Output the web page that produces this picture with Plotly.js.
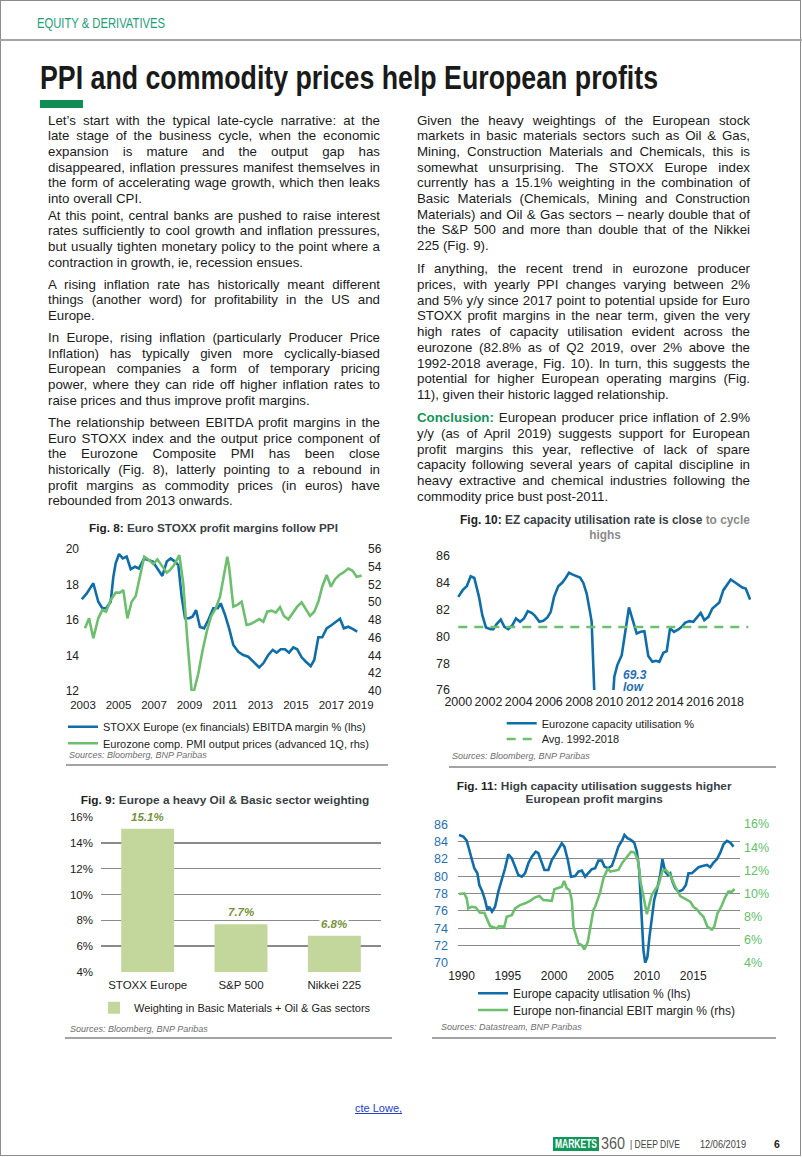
<!DOCTYPE html>
<html>
<head>
<meta charset="utf-8">
<script src="https://cdn.plot.ly/plotly-3.0.1.min.js"></script>
<style>
  html, body { margin:0; padding:0; background:#fff; }
  #page { position:relative; width:802px; height:1157px; overflow:hidden; background:#fff;
          font-family:"Liberation Sans", Arial, sans-serif; color:#1b1b1b; }
  .abs { position:absolute; }
  .narrow { font-family:"Liberation Sans Narrow","Arial Narrow","Liberation Sans",Arial,sans-serif;
            white-space:nowrap; transform-origin:0 50%; display:inline-block; }
  .line { position:absolute; white-space:nowrap; font-size:13.3px; line-height:16px; color:#1b1b1b; }
  .src { position:absolute; font-size:9px; line-height:12px; font-style:italic; color:#6d6d6d; white-space:nowrap; }
  .sep { position:absolute; height:1.5px; background:#a3a3a3; }
  .chart { position:absolute; width:380px; height:260px; }
  .concl { color:#13935a; font-weight:bold; }
  .ctitle { position:absolute; white-space:nowrap; font-weight:bold; color:#222; font-size:11.8px; line-height:14px; }
  .ctitle .g { color:#3a3f47; }
  .ctitle .l { color:#8a8a8a; }
</style>
</head>
<body>
<div id="page">
  <div class="abs" style="left:0;top:0;width:799px;height:1154px;border:1.5px solid #8c8c8c;"></div>
  <div class="abs" style="left:0;top:39px;width:802px;height:2px;background:#a5a5a5;"></div>
  <div id="hdr" class="abs narrow" style="left:37px;top:14px;font-size:14.5px;line-height:18px;color:#23a07b;">EQUITY &amp; DERIVATIVES</div>
  <div id="ttl" class="abs narrow" style="left:40px;top:57px;font-size:34px;line-height:40px;font-weight:bold;color:#1a1a1a;">PPI and commodity prices help European profits</div>
  <div class="abs" style="left:40px;top:100px;width:43px;height:8px;background:#0f8d55;"></div>
  <div id="textLayer"></div>

  <div id="fig8" class="chart" style="left:30px;top:515px;"></div>
  <div id="fig10" class="chart" style="left:415px;top:510px;"></div>
  <div id="fig9" class="chart" style="left:30px;top:780px;"></div>
  <div id="fig11" class="chart" style="left:415px;top:780px;"></div>

  <div id="t8" class="ctitle">Fig. 8: <span class="g">Euro STOXX profit margins follow PPI</span></div>
  <div id="t9" class="ctitle">Fig. 9: <span class="g">Europe a heavy Oil &amp; Basic sector weighting</span></div>
  <div id="t10a" class="ctitle">Fig. 10: <span class="g">EZ capacity utilisation rate is close</span> <span class="l">to cycle</span></div>
  <div id="t10b" class="ctitle"><span class="l">highs</span></div>
  <div id="t11a" class="ctitle">Fig. 11: <span class="g">High capacity utilisation suggests higher</span></div>
  <div id="t11b" class="ctitle"><span class="g">European profit margins</span></div>

  <div class="src" style="left:69px;top:749px;">Sources: Bloomberg, BNP Paribas</div>
  <div class="sep" style="left:66px;top:764px;width:322px;"></div>
  <div class="src" style="left:452px;top:750px;">Sources: Bloomberg, BNP Paribas</div>
  <div class="sep" style="left:449px;top:766px;width:327px;"></div>
  <div class="src" style="left:70px;top:1023px;">Sources: Bloomberg, BNP Paribas</div>
  <div class="sep" style="left:65px;top:1037px;width:327px;"></div>
  <div class="src" style="left:441px;top:1021px;">Sources: Datastream, BNP Paribas</div>
  <div class="sep" style="left:432px;top:1037px;width:344px;"></div>

  <div class="abs" style="left:355px;top:1101px;font-size:11px;line-height:14px;color:#2340d0;text-decoration:underline;white-space:nowrap;">cte Lowe,</div>
  <div class="abs" style="left:553px;top:1137px;width:46px;height:14px;background:#11975a;"></div>
  <div id="mk" class="abs narrow" style="left:555px;top:1137px;font-size:12px;line-height:14px;font-weight:bold;color:#fff;">MARKETS</div>
  <div id="m360" class="abs narrow" style="left:601px;top:1135px;font-size:16px;line-height:18px;color:#5a5a5a;">360</div>
  <div id="dd" class="abs narrow" style="left:630px;top:1138px;font-size:10.5px;line-height:13px;color:#444;">| DEEP DIVE</div>
  <div id="dt" class="abs narrow" style="left:700px;top:1138px;font-size:10.5px;line-height:13px;color:#444;">12/06/2019</div>
  <div class="abs" style="left:774px;top:1138px;font-size:10.5px;line-height:13px;font-weight:bold;color:#222;">6</div>
</div>

<script>
// ---------------- Body text ----------------
const leftParagraphs = [
  ["Let\u2019s start with the typical late-cycle narrative: at the",
   "late stage of the business cycle, when the economic",
   "expansion is mature and the output gap has",
   "disappeared, inflation pressures manifest themselves in",
   "the form of accelerating wage growth, which then leaks",
   "into overall CPI."],
  ["At this point, central banks are pushed to raise interest",
   "rates sufficiently to cool growth and inflation pressures,",
   "but usually tighten monetary policy to the point where a",
   "contraction in growth, ie, recession ensues."],
  ["A rising inflation rate has historically meant different",
   "things (another word) for profitability in the US and",
   "Europe."],
  ["In Europe, rising inflation (particularly Producer Price",
   "Inflation) has typically given more cyclically-biased",
   "European companies a form of temporary pricing",
   "power, where they can ride off higher inflation rates to",
   "raise prices and thus improve profit margins."],
  ["The relationship between EBITDA profit margins in the",
   "Euro STOXX index and the output price component of",
   "the Eurozone Composite PMI has been close",
   "historically (Fig. 8), latterly pointing to a rebound in",
   "profit margins as commodity prices (in euros) have",
   "rebounded from 2013 onwards."]
];
const rightParagraphs = [
  ["Given the heavy weightings of the European stock",
   "markets in basic materials sectors such as Oil & Gas,",
   "Mining, Construction Materials and Chemicals, this is",
   "somewhat unsurprising. The STOXX Europe index",
   "currently has a 15.1% weighting in the combination of",
   "Basic Materials (Chemicals, Mining and Construction",
   "Materials) and Oil & Gas sectors \u2013 nearly double that of",
   "the S&P 500 and more than double that of the Nikkei",
   "225 (Fig. 9)."],
  ["If anything, the recent trend in eurozone producer",
   "prices, with yearly PPI changes varying between 2%",
   "and 5% y/y since 2017 point to potential upside for Euro",
   "STOXX profit margins in the near term, given the very",
   "high rates of capacity utilisation evident across the",
   "eurozone (82.8% as of Q2 2019, over 2% above the",
   "1992-2018 average, Fig. 10). In turn, this suggests the",
   "potential for higher European operating margins (Fig.",
   "11), given their historic lagged relationship."],
  ["Conclusion: European producer price inflation of 2.9%",
   "y/y (as of April 2019) suggests support for European",
   "profit margins this year, reflective of lack of spare",
   "capacity following several years of capital discipline in",
   "heavy extractive and chemical industries following the",
   "commodity price bust post-2011."]
];

// ---------------- Fig. 8 data ----------------
const f8MarginYears = [2002.93,2003.21,2003.58,2003.86,2004.09,2004.30,2004.56,2004.71,2004.84,2005.03,
  2005.24,2005.46,2005.69,2005.93,2006.15,2006.44,2006.68,2006.93,2007.19,2007.47,
  2007.72,2007.94,2008.18,2008.37,2008.56,2008.75,2008.99,2009.18,2009.37,2009.59,
  2009.82,2010.06,2010.34,2010.59,2010.76,2011.00,2011.24,2011.47,2011.75,2012.03,
  2012.31,2012.59,2012.93,2013.16,2013.44,2013.69,2013.91,2014.14,2014.38,2014.61,
  2014.85,2015.07,2015.32,2015.56,2015.83,2016.03,2016.26,2016.48,2016.73,2017.01,
  2017.25,2017.48,2017.70,2017.95,2018.19,2018.45];
const f8Margin = [17.17,17.5,18.07,17.03,16.66,16.66,17.03,18.44,19.19,19.72,
  19.47,19.57,18.86,19.0,18.9,19.47,19.38,19.29,18.9,18.48,
  19.29,19.47,19.29,19.1,17.3,16.1,16.1,16.2,16.56,15.6,
  15.53,16.0,16.66,16.66,16.94,16.3,15.5,14.59,14.21,14.03,
  13.93,13.65,13.33,13.56,14.03,14.31,14.16,14.35,14.35,14.16,
  14.46,14.35,13.9,13.65,13.4,13.75,15.03,15.03,15.53,15.72,
  15.9,16.07,15.53,15.62,15.5,15.34];
const f8PmiYears = [2003.11,2003.34,2003.58,2003.86,2004.09,2004.30,2004.56,2004.84,2005.08,2005.27,
  2005.50,2005.74,2005.97,2006.21,2006.45,2006.72,2006.96,2007.19,2007.47,2007.72,
  2007.90,2008.13,2008.43,2008.65,2008.88,2009.12,2009.25,2009.50,2009.74,2009.97,
  2010.21,2010.48,2010.72,2010.94,2011.13,2011.23,2011.47,2011.69,2011.94,2012.22,
  2012.45,2012.69,2012.93,2013.16,2013.38,2013.63,2013.86,2014.10,2014.32,2014.57,
  2014.81,2015.07,2015.32,2015.54,2015.79,2016.03,2016.26,2016.48,2016.73,2016.97,
  2017.20,2017.44,2017.66,2017.95,2018.19,2018.42,2018.70];
const f8Pmi = [47.06,48.19,45.94,48.19,49.13,48.94,50.25,51.08,51.08,51.38,
  48.19,50.06,50.7,52.88,55.13,54.76,54.3,54.84,54.0,53.33,
  53.63,54.2,55.3,52.1,45.75,40.0,40.0,42.0,44.6,46.68,
  48.37,49.32,50.63,52.88,55.13,54.0,49.5,49.7,50.06,47.44,
  47.55,47.81,48.1,47.81,48.94,49.05,48.83,49.43,48.45,48.08,
  48.83,49.5,50.0,49.32,48.45,48.94,50.06,51.75,53.07,51.75,
  52.6,53.07,53.33,53.8,53.55,52.88,53.0];
const f8TickLabels = ["2003","2005","2007","2009","2011","2013","2015","2017","2019"];

// ---------------- Fig. 9 data ----------------
const f9Categories = ["STOXX Europe","S&P 500","Nikkei 225"];
const f9Weights = [15.1, 7.7, 6.8];

// ---------------- Fig. 10 data ----------------
const f10Years = [2000.0,2000.29,2000.56,2000.82,2001.06,2001.37,2001.59,2001.83,2002.14,2002.32,
  2002.54,2002.81,2003.05,2003.31,2003.58,2003.82,2004.09,2004.35,2004.6,2004.86,
  2005.08,2005.37,2005.63,2005.9,2006.12,2006.34,2006.62,2006.89,2007.11,2007.33,
  2007.58,2007.84,2008.06,2008.28,2008.5,2008.72,2008.83,2009.08,2009.33,2009.58,
  2009.83,2010.08,2010.33,2010.53,2010.82,2011.04,2011.3,2011.55,2011.81,2012.08,
  2012.32,2012.58,2012.85,2013.09,2013.31,2013.58,2013.8,2014.02,2014.28,2014.57,
  2014.79,2015.01,2015.3,2015.56,2015.79,2016.05,2016.29,2016.56,2016.82,2017.07,
  2017.28,2017.55,2017.77,2018.04,2018.28,2018.54,2018.81,2019.03,2019.32];
const f10Capacity = [82.95,83.45,83.74,84.49,84.36,82.95,81.58,80.67,80.54,80.54,
  80.92,81.26,80.71,80.54,80.84,81.34,81.09,81.34,81.88,81.76,
  81.53,81.09,81.16,81.41,81.83,82.95,83.74,84.02,84.36,84.76,
  84.61,84.49,84.39,83.99,83.2,81.83,81.09,73.6,70.5,69.3,
  70.2,72.5,77.0,77.86,78.6,80.1,82.16,81.21,80.22,80.34,
  80.39,78.53,78.1,78.18,78.1,78.78,78.9,80.6,80.34,80.52,
  80.71,81.01,81.14,81.09,81.39,81.76,81.21,81.46,82.08,82.33,
  82.53,83.45,83.82,84.24,84.06,83.87,83.65,83.57,82.75];
const f10AvgYears = [2000.0, 2019.2];
const f10AvgValue = [80.7, 80.7];

// ---------------- Fig. 11 data ----------------
const f11CapYears = [1989.73,1990.2,1990.56,1990.92,1991.17,1991.38,1991.71,1991.92,1992.25,1992.54,
  1992.79,1993.0,1993.29,1993.62,1993.97,1994.34,1994.7,1995.05,1995.42,1995.78,
  1996.13,1996.5,1996.86,1997.21,1997.58,1998.01,1998.29,1998.66,1998.94,1999.37,
  1999.74,2000.1,2000.45,2000.82,2001.1,2001.47,2001.82,2002.26,2002.61,2002.98,
  2003.34,2003.69,2004.06,2004.42,2004.77,2005.14,2005.42,2005.79,2006.22,2006.58,
  2006.93,2007.36,2007.58,2007.9,2008.27,2008.63,2008.92,2009.17,2009.38,2009.63,
  2009.82,2010.06,2010.28,2010.54,2010.79,2011.08,2011.44,2011.68,2011.98,2012.27,
  2012.52,2012.76,2013.06,2013.41,2013.84,2014.21,2014.49,2014.86,2015.22,2015.58,
  2016.0,2016.48,2016.84,2017.19,2017.56,2017.92,2018.27,2018.64,2019.0,2019.35];
const f11Capacity = [84.76,84.57,84.1,82.72,81.87,80.91,80.34,78.98,78.21,77.25,
  76.09,76.47,75.9,76.47,78.21,79.56,80.91,82.53,82.07,81.1,
  80.14,79.94,80.34,81.49,82.25,82.83,82.65,81.56,80.72,80.72,
  81.87,82.45,83.11,83.8,83.41,81.87,79.94,80.02,80.52,80.64,
  79.94,80.41,80.8,80.91,81.79,81.79,81.1,80.91,81.18,82.25,
  83.41,84.18,84.76,84.38,84.18,83.87,82.83,80.72,76.87,71.47,
  70.0,70.69,73.0,75.13,77.25,78.4,80.14,81.95,80.52,80.14,
  80.34,79.37,78.6,78.21,78.4,78.98,80.34,80.34,80.72,81.03,
  81.18,81.29,81.03,81.56,81.95,82.72,83.69,84.07,83.87,83.41];
const f11EbitYears = [1989.73,1990.3,1990.56,1990.73,1991.1,1991.53,1992.0,1992.46,1992.72,1993.08,
  1993.54,1993.8,1994.05,1994.62,1994.88,1995.42,1995.78,1996.32,1996.86,1997.4,
  1997.94,1998.4,1998.83,1999.37,1999.74,2000.02,2000.45,2000.82,2001.07,2001.36,
  2001.64,2001.9,2002.08,2002.37,2002.61,2002.98,2003.26,2003.63,2003.95,2004.23,
  2004.42,2004.96,2005.31,2005.79,2006.04,2006.39,2006.93,2007.36,2007.84,2008.3,
  2008.66,2009.03,2009.35,2009.63,2010.0,2010.54,2010.9,2011.25,2011.69,2012.05,
  2012.52,2013.06,2013.6,2014.14,2014.68,2015.03,2015.4,2015.75,2016.11,2016.54,
  2017.02,2017.27,2017.62,2018.02,2018.45,2018.8,2019.18,2019.46];
const f11Ebit = [9.95,10.0,9.58,8.71,8.85,8.8,8.33,8.33,7.85,7.18,
  7.07,6.98,7.18,7.12,7.99,8.13,8.71,9.0,9.15,9.37,
  9.67,9.78,9.43,9.43,9.37,10.36,10.45,10.59,11.08,10.45,
  10.3,9.43,7.12,6.4,5.68,5.53,5.16,5.82,7.27,8.57,
  8.85,10.1,11.3,12.18,11.89,11.95,12.04,12.67,13.19,13.62,
  13.54,12.9,10.88,9.72,8.22,9.9,10.3,10.74,11.98,12.04,
  11.6,10.59,9.78,9.5,9.29,8.85,8.63,8.28,7.99,7.12,
  6.89,7.12,8.28,8.85,9.67,10.16,10.16,10.39];
const f11TickYears = [1990, 1995, 2000, 2005, 2010, 2015];
const pctTicks = [4, 6, 8, 10, 12, 14, 16];

// ---------------- text layout ----------------
function placeColumn(paras, x, width, y0, step, extra) {
  const layer = document.getElementById('textLayer');
  let y = y0;
  paras.forEach((p, pi) => {
    if (pi > 0) y += extra[pi];
    p.forEach((txt, li) => {
      const d = document.createElement('div');
      d.className = 'line';
      d.style.left = x + 'px';
      d.style.top = (y - 8.5) + 'px';
      let html = txt.replace(/&/g, '&amp;');
      html = html.replace(/^Conclusion:/, '<span class="concl">Conclusion:</span>');
      d.innerHTML = html;
      layer.appendChild(d);
      if (li < p.length - 1) {
        const w = d.getBoundingClientRect().width;
        const n = (txt.match(/ /g) || []).length;
        if (n) d.style.wordSpacing = ((width - w) / n) + 'px';
      }
      y += step;
    });
  });
}
placeColumn(leftParagraphs, 48, 332, 121, 15.7, [0, 0.8, 6.2, 6.2, 6.5]);
placeColumn(rightParagraphs, 417, 333, 121, 15.7, [0, 7.5, 7.5]);

function fitWidth(id, target) {
  const el = document.getElementById(id);
  const w = el.getBoundingClientRect().width;
  if (w > 0) el.style.transform = 'scaleX(' + (target / w) + ')';
}
fitWidth('hdr', 128);
fitWidth('ttl', 618);
fitWidth('mk', 42);
fitWidth('m360', 24);
fitWidth('dd', 50);
fitWidth('dt', 46);

// chart titles: font size chosen so the main line spans the measured width, centred at cx
function placeTitle(ids, cx, ys, target) {
  const first = document.getElementById(ids[0]);
  const w = first.getBoundingClientRect().width;
  const fs = 11.8 * target / w;
  ids.forEach((id, i) => {
    const el = document.getElementById(id);
    el.style.fontSize = fs + 'px';
    const ww = el.getBoundingClientRect().width;
    el.style.left = (cx - ww / 2) + 'px';
    el.style.top = (ys[i] - 7.5) + 'px';
  });
}
placeTitle(['t8'], 213.5, [528.3], 249);
placeTitle(['t9'], 225, [800.5], 288.6);
placeTitle(['t10a', 't10b'], 605, [520.7, 535], 290);
placeTitle(['t11a', 't11b'], 594.2, [786, 799.5], 275);

// ---------------- charts ----------------
const FONT = 'Liberation Sans, Arial, sans-serif';
const BLUE = '#0f6ea9';
const GREEN = '#6dbf6e';
const BAR = '#c3d69b';
const GRID = '#8a8a8a';
const CFG = {staticPlot: true, displayModeBar: false};
const W = 380, H = 260;

function base(m) {
  return {
    width: W, height: H, margin: Object.assign({pad: 0, autoexpand: false}, m),
    paper_bgcolor: 'rgba(0,0,0,0)', plot_bgcolor: 'rgba(0,0,0,0)',
    font: {family: FONT, size: 12, color: '#222'},
    showlegend: true
  };
}
function legendAt(m, xpx, ypx, size) {
  const pw = W - m.l - m.r, ph = H - m.t - m.b;
  return {x: (xpx - m.l) / pw, y: (H - m.b - ypx) / ph, xref: 'paper', yref: 'paper',
          xanchor: 'left', yanchor: 'middle', bgcolor: 'rgba(0,0,0,0)', borderwidth: 0,
          orientation: 'v', font: {family: FONT, size: size, color: '#222'}};
}
function draw(id, data, layout) {
  try { Plotly.newPlot(id, data, layout, CFG); } catch (e) { console.error(e); }
}

// Fig 8
(function () {
  const m = {l: 50, r: 45, t: 34, b: 84};
  const L = base(m);
  const tickPos = f8TickLabels.map(t => +t);
  tickPos[tickPos.length - 1] = 2018.65;
  L.xaxis = {range: [2002.83, 2018.89], tickvals: tickPos, ticktext: f8TickLabels, tickangle: 0, showgrid: false,
             zeroline: false, showline: false, ticks: '', ticklabelstandoff: 5, tickfont: {size: 11.5}};
  L.yaxis = {range: [12, 20], dtick: 2, showgrid: false, zeroline: false, ticks: '', tickfont: {size: 12}};
  L.yaxis2 = {range: [40, 56], dtick: 2, overlaying: 'y', side: 'right', showgrid: false, zeroline: false,
              ticks: '', tickfont: {size: 12}, ticklabelstandoff: 2};
  L.legend = legendAt(m, 33, 211.7, 11);
  L.legend2 = legendAt(m, 33, 228.3, 11);
  const data = [
    {x: f8MarginYears, y: f8Margin, type: 'scatter', mode: 'lines', name: 'STOXX Europe (ex financials) EBITDA margin % (lhs)',
     line: {color: BLUE, width: 2.6}, legend: 'legend'},
    {x: f8PmiYears, y: f8Pmi, type: 'scatter', mode: 'lines', yaxis: 'y2', name: 'Eurozone comp. PMI output prices (advanced 1Q, rhs)',
     line: {color: GREEN, width: 2.6}, legend: 'legend2'}
  ];
  draw('fig8', data, L);
})();

// Fig 9
(function () {
  const m = {l: 71, r: 29, t: 37, b: 68};
  const L = base(m);
  L.bargap = 0.433;
  L.xaxis = {type: 'category', tickangle: 0, showgrid: false, zeroline: false, showline: false, ticks: '',
             tickfont: {size: 11.5}, ticklabelstandoff: 4};
  L.yaxis = {range: [3.99, 16.01], tickvals: pctTicks, ticktext: pctTicks.map(v => v + '%'), showgrid: true,
             gridcolor: GRID, gridwidth: 1.3, zeroline: false, showline: false, ticks: '',
             tickfont: {size: 11.5}, ticklabelstandoff: 7};
  L.legend = legendAt(m, 64, 227.7, 11);
  L.annotations = f9Categories.map((c, i) => ({
    x: c, y: f9Weights[i], xref: 'x', yref: 'y', yshift: 12, showarrow: false,
    text: '<b><i>' + f9Weights[i].toFixed(1) + '%</i></b>', font: {size: 11.5, color: '#76923c'},
    bgcolor: '#ffffff', borderpad: 1, xanchor: 'center', yanchor: 'middle'
  }));
  const data = [{x: f9Categories, y: f9Weights, type: 'bar', name: 'Weighting in Basic Materials + Oil & Gas sectors',
                 marker: {color: BAR}}];
  draw('fig9', data, L);
})();

// Fig 10
(function () {
  const m = {l: 37, r: 44, t: 46, b: 80};
  const L = base(m);
  L.xaxis = {range: [1999.583, 2019.38], dtick: 2, tick0: 2000, tickangle: 0, showgrid: false, zeroline: false,
             showline: false, ticks: '', tickfont: {size: 12.5}, ticklabelstandoff: 2};
  L.yaxis = {range: [76, 86], dtick: 2, showgrid: false, zeroline: false, showline: false, ticks: '',
             tickfont: {size: 12.5}, ticklabelstandoff: 1};
  L.legend = legendAt(m, 86.7, 213.3, 11);
  L.legend2 = legendAt(m, 86.7, 229, 11);
  const low = Math.min.apply(null, f10Capacity);
  L.annotations = [
    {x: 2010.8, y: 77.12, xref: 'x', yref: 'y', xanchor: 'left', yanchor: 'middle', showarrow: false,
     text: '<b><i>' + low.toFixed(1) + '</i></b>', font: {size: 12, color: '#1f6fb4'}},
    {x: 2010.8, y: 76.25, xref: 'x', yref: 'y', xanchor: 'left', yanchor: 'middle', showarrow: false,
     text: '<b><i>low</i></b>', font: {size: 12, color: '#1f6fb4'}}
  ];
  const data = [
    {x: f10Years, y: f10Capacity, type: 'scatter', mode: 'lines', name: 'Eurozone capacity utilisation %',
     line: {color: BLUE, width: 2.6}, legend: 'legend'},
    {x: f10AvgYears, y: f10AvgValue, type: 'scatter', mode: 'lines', name: 'Avg. 1992-2018',
     line: {color: GREEN, width: 2.4, dash: '9px,7px'}, legend: 'legend2'}
  ];
  draw('fig10', data, L);
})();

// Fig 11
(function () {
  const m = {l: 43, r: 55, t: 44, b: 77};
  const L = base(m);
  L.xaxis = {range: [1989.62, 2020.05], tickvals: f11TickYears, tickangle: 0, showgrid: false, zeroline: false,
             showline: false, ticks: '', tickfont: {size: 12}, ticklabelstandoff: 4};
  L.yaxis = {range: [69.98, 86.02], tickvals: [70, 72, 74, 76, 78, 80, 82, 84, 86], showgrid: true,
             gridcolor: GRID, gridwidth: 1.3, zeroline: false, showline: false, ticks: '',
             tickfont: {size: 12.5, color: '#1f6fb4'}, ticklabelstandoff: 9};
  L.yaxis2 = {range: [3.99, 16.01], tickvals: pctTicks, ticktext: pctTicks.map(v => v + '%'), overlaying: 'y',
              side: 'right', showgrid: false, zeroline: false, showline: false, ticks: '',
              tickfont: {size: 12.5, color: '#5fbf6a'}, ticklabelstandoff: 3};
  L.legend = legendAt(m, 58, 213.3, 12);
  L.legend2 = legendAt(m, 58, 230, 12);
  const data = [
    {x: f11CapYears, y: f11Capacity, type: 'scatter', mode: 'lines', name: 'Europe capacity utlisation % (lhs)',
     line: {color: BLUE, width: 2.6}, legend: 'legend'},
    {x: f11EbitYears, y: f11Ebit, type: 'scatter', mode: 'lines', yaxis: 'y2', name: 'Europe non-financial EBIT margin % (rhs)',
     line: {color: GREEN, width: 2.6}, legend: 'legend2'}
  ];
  draw('fig11', data, L);
})();
</script>
</body>
</html>
